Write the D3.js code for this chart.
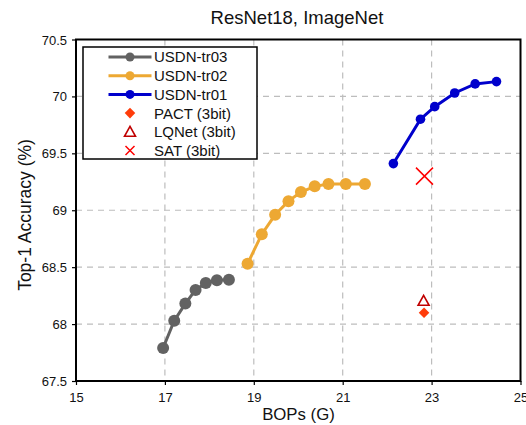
<!DOCTYPE html>
<html>
<head>
<meta charset="utf-8">
<script src="https://cdn.jsdelivr.net/npm/d3@7"></script>
<style>
  body { margin: 0; background: #fff; }
  svg { font-family: "Liberation Sans", Arial, sans-serif; }
</style>
</head>
<body>
<svg id="chart" width="526" height="425"></svg>
<script>
// Data

const tr03_bops = [16.96, 17.21, 17.46, 17.69, 17.92, 18.17, 18.44];
const tr03_acc = [67.79, 68.03, 68.18, 68.30, 68.36, 68.385, 68.39];

const tr02_bops = [18.86, 19.18, 19.48, 19.78, 20.06, 20.37, 20.68, 21.07, 21.50];
const tr02_acc = [68.53, 68.79, 68.96, 69.08, 69.16, 69.21, 69.23, 69.23, 69.23];

const tr01_bops = [22.14, 22.75, 23.07, 23.52, 23.98, 24.46];
const tr01_acc = [69.41, 69.80, 69.91, 70.03, 70.11, 70.13];

const pact = [22.83, 68.10];
const lqnet = [22.82, 68.20];
const sat = [22.84, 69.30];

const x_ticks = [15, 17, 19, 21, 23, 25];
const y_ticks = [67.5, 68, 68.5, 69, 69.5, 70, 70.5];

const svg = d3.select('#chart');
const plotLeft = 76, plotRight = 520.5, plotTop = 39.5, plotBottom = 381;

const x = d3.scaleLinear().domain([15, 25]).range([plotLeft, plotRight]);
const y = d3.scaleLinear().domain([67.5, 70.5]).range([plotBottom, plotTop]);

// Grid

svg.append('g')
    .selectAll('line')
    .data(x_ticks.slice(1, -1))
    .join('line')
    .attr('x1', d => x(d)).attr('x2', d => x(d))
    .attr('y1', plotTop).attr('y2', plotBottom)
    .attr('stroke', '#bdbdbd').attr('stroke-width', 1.2)
    .attr('stroke-dasharray', '6,5');

svg.append('g')
    .selectAll('line')
    .data(y_ticks.slice(1, -1))
    .join('line')
    .attr('x1', plotLeft).attr('x2', plotRight)
    .attr('y1', d => y(d)).attr('y2', d => y(d))
    .attr('stroke', '#bdbdbd').attr('stroke-width', 1.2)
    .attr('stroke-dasharray', '6,5');

// Axes

const xAxis = svg.append('g')
    .attr('transform', `translate(0,${plotBottom})`)
    .call(d3.axisBottom(x).tickValues(x_ticks).tickSize(4).tickSizeOuter(0).tickFormat(d3.format('d')));

const yAxis = svg.append('g')
    .attr('transform', `translate(${plotLeft},0)`)
    .call(d3.axisLeft(y).tickValues(y_ticks).tickSize(4).tickSizeOuter(0).tickFormat(d => String(d)));

[xAxis, yAxis].forEach(g => {
    g.select('.domain').remove();
    g.selectAll('line').attr('stroke', '#000').attr('stroke-width', 1.2);
    g.selectAll('text').attr('font-size', 13).attr('fill', '#111')
        .attr('font-family', '"Liberation Sans", Arial, sans-serif');
});
xAxis.selectAll('text').attr('dy', '1.05em');
yAxis.selectAll('text').attr('x', -9).attr('dy', '0.35em');

svg.append('rect')
    .attr('x', plotLeft).attr('y', plotTop)
    .attr('width', plotRight - plotLeft).attr('height', plotBottom - plotTop)
    .attr('fill', 'none').attr('stroke', '#000').attr('stroke-width', 2);

// Series

const line = d3.line().x(d => x(d[0])).y(d => y(d[1]));

const series = [
    { name: 'USDN-tr03', color: '#626262', r: 6, pts: d3.zip(tr03_bops, tr03_acc) },
    { name: 'USDN-tr02', color: '#eda833', r: 6, pts: d3.zip(tr02_bops, tr02_acc) },
    { name: 'USDN-tr01', color: '#0000cc', r: 4.8, pts: d3.zip(tr01_bops, tr01_acc) }
];

series.forEach(s => {
    const g = svg.append('g');
    g.append('path')
        .attr('d', line(s.pts))
        .attr('fill', 'none').attr('stroke', s.color).attr('stroke-width', 3);
    g.selectAll('circle')
        .data(s.pts)
        .join('circle')
        .attr('cx', d => x(d[0])).attr('cy', d => y(d[1]))
        .attr('r', s.r).attr('fill', s.color);
});

// Baselines

function diamond(g, cx, cy) {
    g.append('path')
        .attr('d', d3.symbol(d3.symbolSquare, 56)())
        .attr('transform', `translate(${cx},${cy}) rotate(45)`)
        .attr('fill', '#ff3c0a');
}

function triangle(g, cx, cy) {
    g.append('path')
        .attr('d', `M0,-6L5.5,4L-5.5,4Z`)
        .attr('transform', `translate(${cx},${cy})`)
        .attr('fill', '#fff').attr('stroke', '#c00000').attr('stroke-width', 1.6);
}

function cross(g, cx, cy, s) {
    g.append('path')
        .attr('d', `M${-s},${-s}L${s},${s}M${-s},${s}L${s},${-s}`)
        .attr('transform', `translate(${cx},${cy})`)
        .attr('stroke', '#ff0000').attr('stroke-width', 1.5).attr('fill', 'none');
}

const marks = svg.append('g');
diamond(marks, x(pact[0]), y(pact[1]));
triangle(marks, x(lqnet[0]), y(lqnet[1]));
cross(marks, x(sat[0]), y(sat[1]), 8.5);

// Legend

const legend = svg.append('g');
legend.append('rect')
    .attr('x', 83).attr('y', 47).attr('width', 174).attr('height', 112)
    .attr('fill', '#fff').attr('stroke', '#000').attr('stroke-width', 1.5);

const rowY = i => 57 + i * 18.7;

series.forEach((s, i) => {
    legend.append('line')
        .attr('x1', 108.5).attr('x2', 151.5).attr('y1', rowY(i)).attr('y2', rowY(i))
        .attr('stroke', s.color).attr('stroke-width', 3);
    legend.append('circle')
        .attr('cx', 130).attr('cy', rowY(i)).attr('r', 4.5).attr('fill', s.color);
});

diamond(legend, 130, rowY(3));
triangle(legend, 130, rowY(4) + 0.5);
cross(legend, 130, rowY(5), 4.5);

const legend_labels = ['USDN-tr03', 'USDN-tr02', 'USDN-tr01', 'PACT (3bit)', 'LQNet (3bit)', 'SAT (3bit)'];
legend.selectAll('text')
    .data(legend_labels)
    .join('text')
    .attr('x', 154).attr('y', (d, i) => rowY(i))
    .attr('dy', '0.36em')
    .attr('font-size', 15).attr('fill', '#111')
    .text(d => d);

// Titles

svg.append('text')
    .attr('x', 297).attr('y', 23.5)
    .attr('text-anchor', 'middle').attr('font-size', 18.5).attr('fill', '#111')
    .text('ResNet18, ImageNet');

svg.append('text')
    .attr('x', 298.5).attr('y', 420)
    .attr('text-anchor', 'middle').attr('font-size', 16.8).attr('fill', '#111')
    .text('BOPs (G)');

svg.append('text')
    .attr('transform', `translate(31,215) rotate(-90)`)
    .attr('text-anchor', 'middle').attr('font-size', 17.5).attr('fill', '#111')
    .text('Top-1 Accuracy (%)');
</script>
</body>
</html>
